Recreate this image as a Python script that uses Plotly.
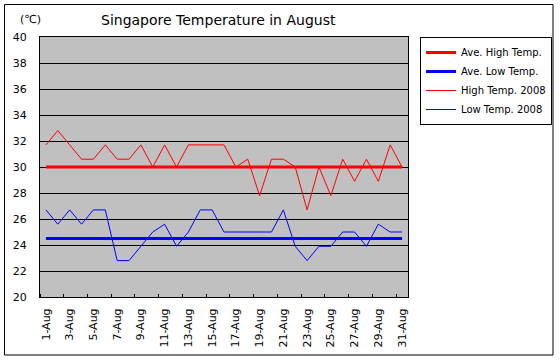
import plotly.graph_objects as go

days = list(range(1, 32))
day_labels = [f"{d}-Aug" for d in days]
ave_high = [30.0] * 31
ave_low = [24.5] * 31
high_2008 = [31.7, 32.8, 31.7, 30.6, 30.6, 31.7, 30.6, 30.6, 31.7, 30.0,
             31.7, 30.0, 31.7, 31.7, 31.7, 31.7, 30.0, 30.6, 27.8, 30.6,
             30.6, 30.0, 26.7, 30.0, 27.8, 30.6, 28.9, 30.6, 28.9, 31.7, 30.0]
low_2008 = [26.7, 25.6, 26.7, 25.6, 26.7, 26.7, 22.8, 22.8, 23.9, 25.0,
            25.6, 23.9, 25.0, 26.7, 26.7, 25.0, 25.0, 25.0, 25.0, 25.0,
            26.7, 23.9, 22.8, 23.9, 23.9, 25.0, 25.0, 23.9, 25.6, 25.0, 25.0]
y_ticks = list(range(20, 41, 2))

FONT = "DejaVu Sans"

fig = go.Figure()
fig.add_trace(go.Scatter(x=days, y=ave_high, mode="lines", name="Ave. High Temp.",
                         line=dict(color="#FF0000", width=3)))
fig.add_trace(go.Scatter(x=days, y=ave_low, mode="lines", name="Ave. Low Temp.",
                         line=dict(color="#0000FF", width=3)))
fig.add_trace(go.Scatter(x=days, y=high_2008, mode="lines", name="High Temp. 2008",
                         line=dict(color="#FF0000", width=1)))
fig.add_trace(go.Scatter(x=days, y=low_2008, mode="lines", name="Low Temp. 2008",
                         line=dict(color="#0000FF", width=1)))

L, R, T, B = 40, 408, 37, 297
W, H = R - L, B - T
FW, FH = 560, 360

def px(x):
    return (x - L) / W

def py(y):
    return (B - y) / H

fig.update_layout(
    width=FW, height=FH, autosize=False,
    margin=dict(l=L, r=FW - R, t=T, b=FH - B, pad=0, autoexpand=False),
    paper_bgcolor="white",
    plot_bgcolor="#C0C0C0",
    font=dict(family=FONT, size=11, color="black"),
    showlegend=True,
    legend=dict(xref="container", yref="container",
                x=420 / FW, y=1 - 37 / FH, xanchor="left", yanchor="top",
                bordercolor="black", borderwidth=1, bgcolor="white",
                font=dict(family=FONT, size=10), tracegroupgap=0,
                itemwidth=30),
    xaxis=dict(range=[0.5, 31.5], tickmode="array",
               tickvals=days[::2], ticktext=day_labels[::2],
               tickangle=-90, ticks="", showgrid=False, zeroline=False,
               showline=True, linecolor="black", linewidth=1, mirror=True,
               ticklabelstandoff=6,
               tickfont=dict(family=FONT, size=11),
               minor=dict(tick0=0.5, dtick=2, ticks="inside", ticklen=3,
                          tickcolor="black", showgrid=False)),
    yaxis=dict(range=[20, 40], tickmode="array", tickvals=y_ticks,
               ticks="", ticklabelstandoff=10,
               showgrid=True, gridcolor="black", gridwidth=1, zeroline=False,
               showline=True, linecolor="black", linewidth=1, mirror=True,
               tickfont=dict(family=FONT, size=11)),
)

fig.add_annotation(text="Singapore Temperature in August", x=px(218), y=py(20),
                   xref="paper", yref="paper", showarrow=False,
                   xanchor="center", yanchor="middle",
                   font=dict(family=FONT, size=14, color="black"))
fig.add_annotation(text="(℃)", x=px(18), y=py(19),
                   xref="paper", yref="paper", showarrow=False,
                   xanchor="left", yanchor="middle",
                   font=dict(family=FONT, size=11, color="black"))
fig.add_shape(type="rect", xref="paper", yref="paper",
              x0=px(4.5), x1=px(553), y0=py(355), y1=py(4.5),
              line=dict(color="black", width=1), layer="below")

fig.write_html("out.html", config={"displayModeBar": False, "responsive": False})

with open("out.html", "r", encoding="utf-8") as f:
    html = f.read()
html = html.replace("<body>", '<body style="margin:0;padding:0;overflow:hidden;">', 1)
with open("out.html", "w", encoding="utf-8") as f:
    f.write(html)
